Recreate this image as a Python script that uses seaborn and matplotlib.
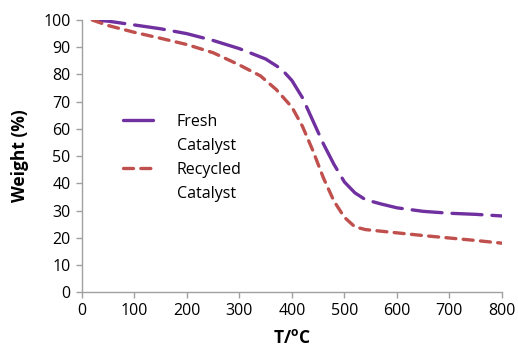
import matplotlib
matplotlib.use("Agg")
import matplotlib.pyplot as plt
from matplotlib.lines import Line2D
import seaborn as sns

# TGA curves
fresh_t = [25, 50, 100, 150, 200, 250, 300, 350, 380, 400, 420, 440, 460, 480,
           500, 520, 540, 570, 600, 650, 700, 750, 800]
fresh_w = [100, 99.6, 98.2, 96.8, 95, 92.5, 89.5, 85.7, 82, 77.8, 71.5, 63, 54.5,
           47, 40.5, 36.5, 34, 32.4, 31, 29.7, 29, 28.6, 28]

recycled_t = [20, 50, 100, 150, 200, 250, 300, 340, 370, 400, 420, 440, 460, 480,
              500, 520, 540, 580, 650, 700, 750, 800]
recycled_w = [100, 98, 95.5, 93.3, 91, 88, 83.5, 79.5, 74.5, 68, 61, 52, 42, 33.5,
              27.5, 24, 23, 22.2, 20.8, 19.9, 19, 18]

x_ticks = list(range(0, 801, 100))
y_ticks = list(range(0, 101, 10))

purple = "#7030A0"
red = "#C0504D"
font_size = 11.5
lw = 2.4
fresh_dash = (9, 3)
rec_dash = (3, 2.2)

sns.set_style("white")
plt.rcParams["font.family"] = ["Open Sans", "DejaVu Sans"]
plt.rcParams["text.color"] = "black"
plt.rcParams["axes.labelcolor"] = "black"
plt.rcParams["xtick.color"] = "black"
plt.rcParams["ytick.color"] = "black"

fig, ax = plt.subplots(figsize=(5.18, 3.52), dpi=100)

sns.lineplot(x=fresh_t, y=fresh_w, ax=ax, color=purple, linewidth=lw)
sns.lineplot(x=recycled_t, y=recycled_w, ax=ax, color=red, linewidth=lw)
ax.lines[0].set_dashes(fresh_dash)
ax.lines[1].set_dashes(rec_dash)
for ln in ax.lines:
    ln.set_dash_capstyle("round")

ax.set_xlim(0, 800)
ax.set_ylim(0, 100)
ax.set_xticks(x_ticks)
ax.set_yticks(y_ticks)
ax.tick_params(axis="both", labelsize=font_size, length=4, width=1,
               color="#A0A0A0", labelcolor="black", direction="out",
               bottom=True, left=True, pad=4)
for side in ["top", "right"]:
    ax.spines[side].set_visible(False)
for side in ["left", "bottom"]:
    ax.spines[side].set_color("#A0A0A0")
    ax.spines[side].set_linewidth(1)

ax.set_xlabel(r"T/$\mathregular{^o}$C", fontsize=font_size + 1, fontweight="bold",
              labelpad=7)
ax.set_ylabel("Weight (%)", fontsize=font_size + 1, fontweight="bold", labelpad=10)

blank = Line2D([], [], color="none")
h_fresh = Line2D([], [], color=purple, linewidth=lw, dashes=fresh_dash,
                 dash_capstyle="round")
h_rec = Line2D([], [], color=red, linewidth=lw, dashes=rec_dash,
               dash_capstyle="round")
ax.legend([h_fresh, blank, h_rec, blank],
          ["Fresh", "Catalyst", "Recycled", "Catalyst"],
          loc="upper left", bbox_to_anchor=(0.078, 0.685), frameon=False,
          fontsize=font_size, handlelength=2.0, handletextpad=1.4,
          labelspacing=0.5, borderpad=0)

fig.subplots_adjust(left=0.158, right=0.969, top=0.943, bottom=0.17)
fig.savefig("out.png", dpi=100)
